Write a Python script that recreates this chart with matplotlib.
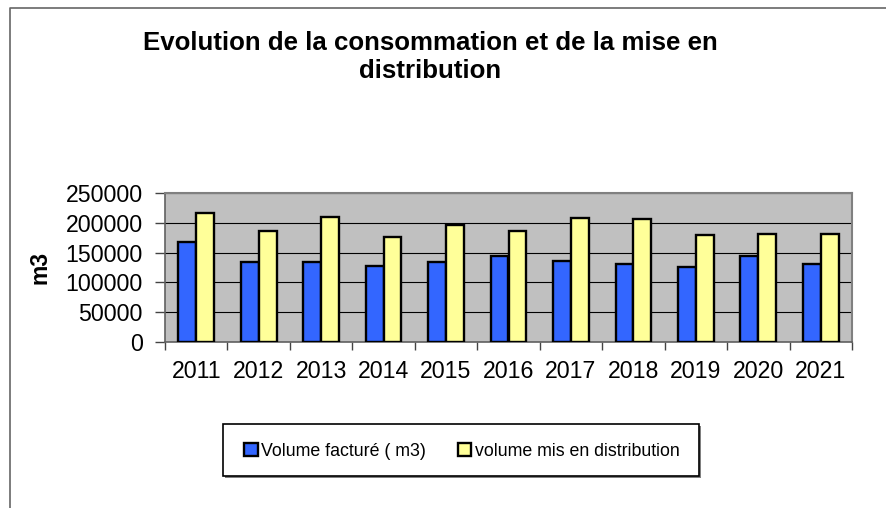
import matplotlib
matplotlib.use("Agg")
import matplotlib.pyplot as plt
import numpy as np
from matplotlib.lines import Line2D
from matplotlib.patches import Rectangle

years = ["2011", "2012", "2013", "2014", "2015", "2016", "2017", "2018", "2019", "2020", "2021"]
volume_facture = [167000, 134000, 134000, 127000, 135000, 144000, 135500, 131000, 126500, 144500, 131000]
volume_distribution = [217000, 186000, 209000, 176000, 197000, 186000, 208500, 207000, 180000, 181500, 182000]
series_labels = ["Volume facturé ( m3)", "volume mis en distribution"]
title = "Evolution de la consommation et de la mise en\ndistribution"
ylabel = "m3"

plt.rcParams['font.family'] = ['Liberation Sans', 'DejaVu Sans']

W, H = 886, 508
fig = plt.figure(figsize=(W / 100, H / 100), dpi=100)
fig.patch.set_facecolor('white')

def fx(px):
    return px / W

def fy(py):
    return 1 - py / H

ax = fig.add_axes([fx(165), fy(342), fx(852) - fx(165), fy(193) - fy(342)])
ax.set_facecolor('#C0C0C0')

x = np.arange(len(years))
w = 1 / 3.5
ax.bar(x - w / 2, volume_facture, w, color='#3366FF', edgecolor='black', linewidth=1.7, zorder=3, label=series_labels[0])
ax.bar(x + w / 2, volume_distribution, w, color='#FFFF99', edgecolor='black', linewidth=1.7, zorder=3, label=series_labels[1])

ax.set_xlim(-0.5, len(years) - 0.5)
ax.set_ylim(0, 250000)
ax.set_yticks(np.arange(0, 250001, 50000))
ax.set_yticklabels([str(v) for v in range(0, 250001, 50000)], fontsize=16.7)
ax.yaxis.grid(True, color='black', linewidth=0.8, zorder=1)
ax.set_axisbelow(True)

ax.set_xticks(x)
ax.set_xticklabels(years, fontsize=16.7)
ax.set_xticks(np.arange(-0.5, len(years), 1), minor=True)
ax.tick_params(axis='x', which='major', length=0, pad=13)
ax.tick_params(axis='x', which='minor', length=6, width=1, color='#444444', direction='out')
ax.tick_params(axis='y', which='major', length=7, width=1, color='#444444', direction='out', pad=9)

for s in ['top', 'right']:
    ax.spines[s].set_color('#808080')
    ax.spines[s].set_linewidth(1.5)
for s in ['left', 'bottom']:
    ax.spines[s].set_color('#606060')
    ax.spines[s].set_linewidth(1.2)

fig.text(fx(40), fy(267), ylabel, rotation=90, fontsize=16.5, fontweight='bold', ha='center', va='center')
fig.text(fx(430), fy(57), title, fontsize=18.6, fontweight='bold', ha='center', va='center', linespacing=1.25)

# outer chart frame (top and left visible)
fig.add_artist(Line2D([fx(10), fx(10), 1.0], [0.0, fy(8), fy(8)], color='#666666', linewidth=1.2))

# legend frame with shadow
fig.add_artist(Rectangle((fx(225), fy(478)), fx(699) - fx(223), fy(424) - fy(476), facecolor='#808080', edgecolor='none'))
fig.add_artist(Rectangle((fx(223), fy(476)), fx(699) - fx(223), fy(424) - fy(476), facecolor='white', edgecolor='black', linewidth=1.2))

handles, labels = ax.get_legend_handles_labels()
leg = fig.legend(handles, labels, loc='center', bbox_to_anchor=(fx(462), fy(451)), ncol=2, frameon=False,
                 fontsize=12.8, handlelength=0.75, handleheight=0.75, handletextpad=0.2, columnspacing=1.8)

fig.savefig('out.png', dpi=100)
